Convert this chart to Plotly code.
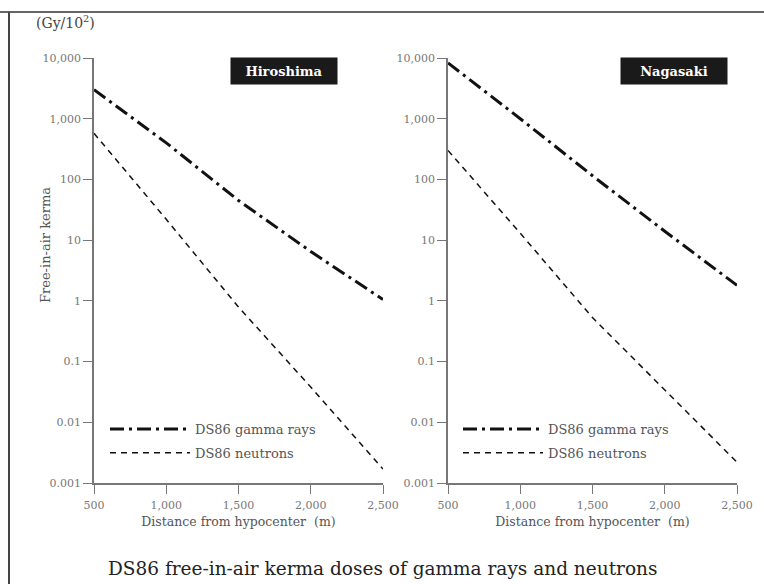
import plotly.graph_objects as go

# ---- data ----
distance = [500, 1000, 1500, 2000, 2500]
hiro_gamma = [3000, 400, 45, 6.5, 1.05]
hiro_neutron = [575, 22, 0.79, 0.038, 0.0017]
naga_gamma = [8300, 1000, 115, 14, 1.8]
naga_neutron = [300, 13, 0.53, 0.034, 0.0022]

x_tickvals = [500, 1000, 1500, 2000, 2500]
x_ticktext = ["500", "1,000", "1,500", "2,000", "2,500"]
y_tickvals = [0.001, 0.01, 0.1, 1, 10, 100, 1000, 10000]
y_ticktext = ["0.001", "0.01", "0.1", "1", "10", "100", "1,000", "10,000"]

gamma_name = "DS86 gamma rays"
neutron_name = "DS86 neutrons"
city_labels = ["Hiroshima", "Nagasaki"]

W, H = 764, 584
FONT = "DejaVu Serif"
LINE_C = "#111111"
AX_C = "#777777"
TXT_C = "#444444"

GAMMA_DASH = "14px,5px,3px,5px"
NEUTRON_DASH = "6px,5px"

fig = go.Figure()

fig.add_trace(go.Scatter(x=distance, y=hiro_gamma, mode="lines", name=gamma_name,
                         line=dict(color=LINE_C, width=3, dash=GAMMA_DASH),
                         legendgroup="g", xaxis="x", yaxis="y", legend="legend"))
fig.add_trace(go.Scatter(x=distance, y=hiro_neutron, mode="lines", name=neutron_name,
                         line=dict(color=LINE_C, width=1.5, dash=NEUTRON_DASH),
                         legendgroup="n", xaxis="x", yaxis="y", legend="legend"))
fig.add_trace(go.Scatter(x=distance, y=naga_gamma, mode="lines", name=gamma_name,
                         line=dict(color=LINE_C, width=3, dash=GAMMA_DASH),
                         legendgroup="g2", xaxis="x2", yaxis="y2", legend="legend2"))
fig.add_trace(go.Scatter(x=distance, y=naga_neutron, mode="lines", name=neutron_name,
                         line=dict(color=LINE_C, width=1.5, dash=NEUTRON_DASH),
                         legendgroup="n2", xaxis="x2", yaxis="y2", legend="legend2"))

def px_x(p):
    return p / W

def px_y(p):
    return 1 - p / H

y_dom = [px_y(483), px_y(58)]
xd1 = [px_x(94), px_x(383)]
xd2 = [px_x(448), px_x(737)]

xaxis_common = dict(
    range=[500, 2500], tickvals=x_tickvals, ticktext=x_ticktext,
    showgrid=False, zeroline=False, showline=True, linecolor=AX_C, linewidth=1.5,
    ticks="outside", ticklen=9, tickcolor=AX_C, tickwidth=1.2, automargin=False,
    ticklabelstandoff=2,
    tickfont=dict(family=FONT, size=11, color="#777777"),
    title=dict(text="Distance from hypocenter  (m)",
               font=dict(family=FONT, size=12.5, color="#555555"), standoff=6),
)
yaxis_common = dict(
    type="log", range=[-3, 4], tickvals=y_tickvals, ticktext=y_ticktext,
    showgrid=False, zeroline=False, showline=True, linecolor=AX_C, linewidth=1.5,
    ticks="outside", ticklen=9, tickcolor=AX_C, tickwidth=1.2, automargin=False,
    tickfont=dict(family=FONT, size=11, color="#777777"),
)

legend_common = dict(
    font=dict(family=FONT, size=13, color="#555555"),
    bgcolor="rgba(0,0,0,0)", itemwidth=80, tracegroupgap=4, traceorder="grouped",
    xanchor="left", yanchor="top", itemclick=False, itemdoubleclick=False,
)

fig.update_layout(
    width=W, height=H,
    font=dict(family=FONT, color=TXT_C),
    margin=dict(l=0, r=0, t=0, b=0, pad=0, autoexpand=False),
    paper_bgcolor="white", plot_bgcolor="white",
    xaxis=dict(domain=xd1, anchor="y", **xaxis_common),
    yaxis=dict(domain=y_dom, anchor="x", **yaxis_common),
    xaxis2=dict(domain=xd2, anchor="y2", **xaxis_common),
    yaxis2=dict(domain=y_dom, anchor="x2", **yaxis_common),
    legend=dict(x=px_x(105), y=px_y(414), **legend_common),
    legend2=dict(x=px_x(458), y=px_y(414), **legend_common),
    showlegend=True,
    shapes=[
        dict(type="line", xref="paper", yref="paper", x0=0, x1=1,
             y0=px_y(12), y1=px_y(12), line=dict(color="#666666", width=2)),
        dict(type="line", xref="paper", yref="paper", x0=px_x(9), x1=px_x(9),
             y0=px_y(12), y1=0, line=dict(color="#444444", width=2)),
    ],
    annotations=[
        dict(text="(Gy/10<sup>2</sup>)", xref="paper", yref="paper",
             x=px_x(34), y=px_y(22), xanchor="left", yanchor="middle",
             showarrow=False, font=dict(family=FONT, size=14, color=TXT_C)),
        dict(text="Free-in-air kerma", xref="paper", yref="paper",
             x=px_x(45), y=px_y(245), xanchor="center", yanchor="middle",
             textangle=-90, showarrow=False,
             font=dict(family=FONT, size=13, color="#555555")),
        dict(text="<b>" + city_labels[0] + "</b>", xref="paper", yref="paper",
             x=px_x(284), y=px_y(70.5), xanchor="center", yanchor="middle",
             showarrow=False, bgcolor="#1a1a1a", width=104, height=24,
             font=dict(family=FONT, size=13, color="white")),
        dict(text="<b>" + city_labels[1] + "</b>", xref="paper", yref="paper",
             x=px_x(674), y=px_y(70.5), xanchor="center", yanchor="middle",
             showarrow=False, bgcolor="#1a1a1a", width=104, height=24,
             font=dict(family=FONT, size=13, color="white")),
        dict(text="DS86 free-in-air kerma doses of gamma rays and neutrons",
             xref="paper", yref="paper", x=px_x(382), y=px_y(568),
             xanchor="center", yanchor="middle", showarrow=False,
             font=dict(family=FONT, size=18.5, color="#222222")),
    ],
)

fig.write_html("out.html", config={"displayModeBar": False},
               post_script="document.body.style.margin='0px';document.body.style.overflow='hidden';")
